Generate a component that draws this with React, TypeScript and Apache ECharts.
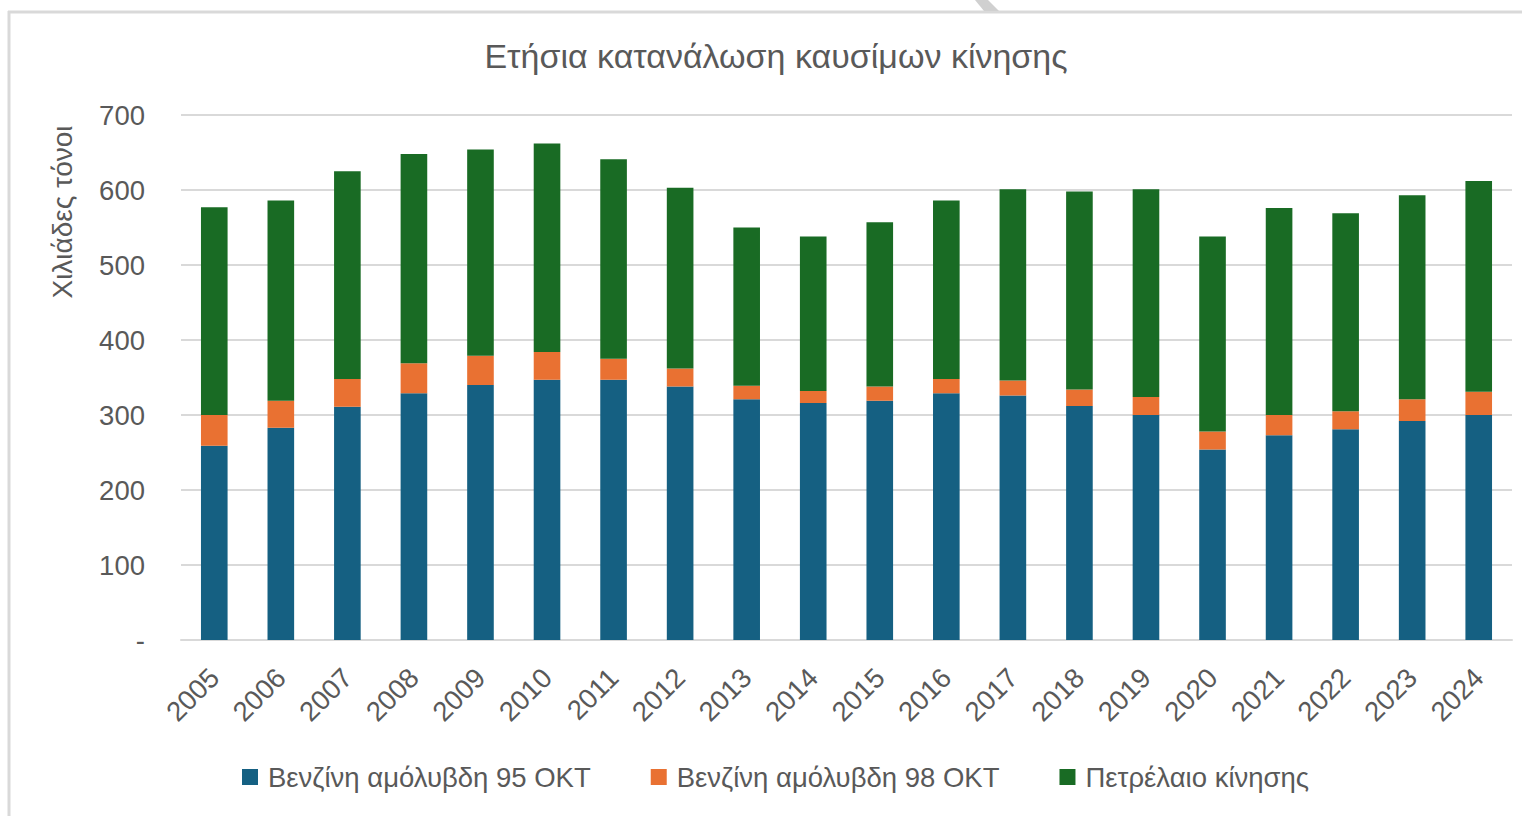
import React, { useEffect, useRef } from "react";
import * as echarts from "echarts";

const years = ["2005","2006","2007","2008","2009","2010","2011","2012","2013","2014","2015","2016","2017","2018","2019","2020","2021","2022","2023","2024"];
const petrol95 = [259, 283, 311, 329, 340, 347, 347, 338, 321, 316, 319, 329, 326, 312, 300, 254, 273, 281, 292, 300];
const petrol98 = [41, 36, 37, 40, 39, 37, 28, 24, 18, 16, 19, 19, 20, 22, 24, 24, 27, 24, 29, 31];
const diesel = [277, 267, 277, 279, 275, 278, 266, 241, 211, 206, 219, 238, 255, 264, 277, 260, 276, 264, 272, 281];
const seriesNames = ["Βενζίνη αμόλυβδη 95 ΟΚΤ", "Βενζίνη αμόλυβδη 98 ΟΚΤ", "Πετρέλαιο κίνησης"];
const colors = ["#156082", "#E97132", "#196B24"];
const title = "Ετήσια κατανάλωση καυσίμων κίνησης";
const yTitle = "Χιλιάδες τόνοι";

const textColor = "#595959";
const font = "'Liberation Sans', Arial, sans-serif";

export default function App() {
  const ref = useRef<HTMLDivElement>(null);
  useEffect(() => {
    if (!ref.current) return;
    const chart = echarts.init(ref.current, null, { renderer: "svg" });
    const data = [petrol95, petrol98, diesel];
    chart.setOption({
      animation: false,
      backgroundColor: "#ffffff",
      title: {
        text: title,
        left: 771,
        top: 34,
        textAlign: "center",
        textStyle: { color: textColor, fontSize: 34, fontWeight: "normal", fontFamily: font },
      },
      legend: {
        left: 237,
        top: 758,
        itemWidth: 16,
        itemHeight: 16,
        itemGap: 60,
        icon: "rect",
        textStyle: { color: textColor, fontSize: 27.5, fontFamily: font, padding: [0, 0, 0, 5] },
        data: seriesNames,
      },
      grid: { left: 181, right: 10, top: 115, bottom: 176, containLabel: false },
      xAxis: {
        type: "category",
        data: years,
        axisLine: { lineStyle: { color: "#d9d9d9", width: 2 } },
        axisTick: { show: false },
        axisLabel: { rotate: 45, margin: 33, color: textColor, fontSize: 27.5, fontFamily: font },
      },
      yAxis: {
        type: "value",
        min: 0,
        max: 700,
        interval: 100,
        axisLine: { show: false },
        axisTick: { show: false },
        splitLine: { lineStyle: { color: "#d9d9d9", width: 2 } },
        axisLabel: {
          margin: 36,
          color: textColor,
          fontSize: 27.5,
          fontFamily: font,
          formatter: (v: number) => (v === 0 ? "-" : String(v)),
        },
      },
      series: seriesNames.map((name, i) => ({
        name,
        type: "bar",
        stack: "total",
        barWidth: "40%",
        itemStyle: { color: colors[i] },
        data: data[i],
      })),
      graphic: [
        {
          type: "line",
          shape: { x1: 8, y1: 12, x2: 1522, y2: 12 },
          style: { stroke: "#d9d9d9", lineWidth: 3 },
        },
        {
          type: "line",
          shape: { x1: 9, y1: 11, x2: 9, y2: 816 },
          style: { stroke: "#d9d9d9", lineWidth: 3 },
        },
        {
          type: "polygon",
          shape: { points: [[975, 0], [988, 0], [999, 11], [984, 11]] },
          style: { fill: "#d0d0d0" },
        },
        {
          type: "text",
          x: 62,
          y: 212,
          rotation: Math.PI / 2,
          style: {
            text: yTitle,
            fill: textColor,
            fontSize: 28,
            fontFamily: font,
            textAlign: "center",
            textVerticalAlign: "middle",
          },
        },
      ],
    });
    return () => chart.dispose();
  }, []);
  return <div ref={ref} style={{ position: "fixed", left: 0, top: 0, width: 1522, height: 816 }} />;
}
